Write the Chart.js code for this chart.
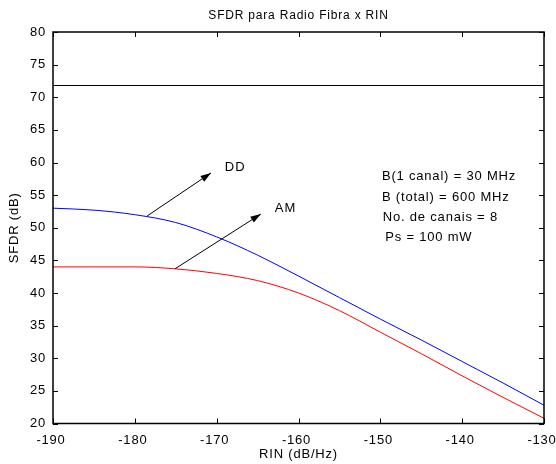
<!DOCTYPE html>
<html>
<head>
<meta charset="utf-8">
<script src="https://cdn.jsdelivr.net/npm/chart.js@4/dist/chart.umd.min.js"></script>
<style>
  html, body { margin: 0; padding: 0; background: #fff; }
  #wrap { width: 556px; height: 464px; }
</style>
</head>
<body>
<div id="wrap"><canvas id="c" width="556" height="464"></canvas></div>
<script>
// ── Data ──────────────────────────────────────────────────────────────────────
const rin    = [-190, -185, -180, -175, -170, -165, -160, -155, -150, -145, -140, -135, -130];
const sfdrDD = [53.0, 52.7, 52.0, 50.8, 48.6, 45.8, 42.6, 39.3, 36.0, 32.8, 29.5, 26.2, 22.8];
const sfdrAM = [44.0, 44.0, 44.0, 43.7, 43.0, 41.9, 40.0, 37.3, 34.0, 30.7, 27.3, 24.0, 20.8];
const limitLevel = 71.8;
const xTicks = [-190, -180, -170, -160, -150, -140, -130];
const yTicks = [20, 25, 30, 35, 40, 45, 50, 55, 60, 65, 70, 75, 80];
const notes  = ['B(1 canal) = 30 MHz', 'B (total) = 600 MHz', 'No. de canais = 8', 'Ps = 100 mW'];

const FONT = "'Liberation Sans', Arial, sans-serif";

// ── Plugin: box, inward ticks, arrows, labels ────────────────────────────────
const decor = {
  id: 'decor',
  beforeUpdate(chart) { chart.ctx.letterSpacing = '0.8px'; },
  beforeDraw(chart) { chart.ctx.letterSpacing = '0.8px'; },
  afterDatasetsDraw(chart) {
    const { ctx, chartArea: a, scales: { x, y } } = chart;
    ctx.save();
    ctx.strokeStyle = '#000';
    ctx.lineWidth = 1.5;
    ctx.strokeRect(a.left, a.top, a.right - a.left, a.bottom - a.top);

    ctx.lineWidth = 1;
    ctx.beginPath();
    xTicks.forEach(v => {
      const px = Math.round(x.getPixelForValue(v)) + 0.5;
      ctx.moveTo(px, a.bottom); ctx.lineTo(px, a.bottom - 5);
      ctx.moveTo(px, a.top);    ctx.lineTo(px, a.top + 5);
    });
    yTicks.forEach(v => {
      const py = Math.round(y.getPixelForValue(v)) + 0.5;
      ctx.moveTo(a.left, py);  ctx.lineTo(a.left + 5, py);
      ctx.moveTo(a.right, py); ctx.lineTo(a.right - 5, py);
    });
    ctx.stroke();

    const arrow = (x0, y0, x1, y1) => {
      const p0 = [x.getPixelForValue(x0), y.getPixelForValue(y0)];
      const p1 = [x.getPixelForValue(x1), y.getPixelForValue(y1)];
      const ang = Math.atan2(p1[1] - p0[1], p1[0] - p0[0]);
      ctx.beginPath();
      ctx.moveTo(p0[0], p0[1]); ctx.lineTo(p1[0], p1[1]);
      ctx.stroke();
      ctx.beginPath();
      ctx.moveTo(p1[0], p1[1]);
      ctx.lineTo(p1[0] - 11 * Math.cos(ang - 0.32), p1[1] - 11 * Math.sin(ang - 0.32));
      ctx.lineTo(p1[0] - 11 * Math.cos(ang + 0.32), p1[1] - 11 * Math.sin(ang + 0.32));
      ctx.closePath();
      ctx.fillStyle = '#000';
      ctx.fill();
    };
    arrow(-178.5, 51.8, -170.7, 58.4);
    arrow(-175.1, 43.7, -164.6, 52.1);

    ctx.fillStyle = '#000';
    ctx.font = '13px ' + FONT;
    ctx.letterSpacing = '1px';
    ctx.textBaseline = 'middle';
    ctx.textAlign = 'left';
    ctx.fillText('DD', x.getPixelForValue(-169.0), y.getPixelForValue(59.3));
    ctx.fillText('AM', x.getPixelForValue(-162.9), y.getPixelForValue(53.0));

    ctx.letterSpacing = '0.8px';
    const noteY = [57.8, 54.65, 51.6, 48.55];
    const noteX = [-149.8, -149.8, -149.7, -149.4];
    notes.forEach((t, i) => {
      ctx.fillText(t, x.getPixelForValue(noteX[i]), y.getPixelForValue(noteY[i]));
    });
    ctx.restore();
  }
};

// ── Chart ─────────────────────────────────────────────────────────────────────
new Chart(document.getElementById('c'), {
  type: 'line',
  data: {
    datasets: [
      {
        label: 'DD',
        data: rin.map((v, i) => ({ x: v, y: sfdrDD[i] })),
        borderColor: '#0000ff',
        borderWidth: 1,
        pointRadius: 0,
        cubicInterpolationMode: 'monotone',
      },
      {
        label: 'AM',
        data: rin.map((v, i) => ({ x: v, y: sfdrAM[i] })),
        borderColor: '#ff0000',
        borderWidth: 1,
        pointRadius: 0,
        cubicInterpolationMode: 'monotone',
      },
      {
        label: 'limit',
        data: [{ x: rin[0], y: limitLevel }, { x: rin[rin.length - 1], y: limitLevel }],
        borderColor: '#000',
        borderWidth: 1,
        pointRadius: 0,
      }
    ]
  },
  options: {
    responsive: false,
    animation: false,
    events: [],
    layout: { padding: { left: 0, right: 12, top: 0, bottom: 0 } },
    plugins: {
      legend: { display: false },
      tooltip: { enabled: false },
      title: {
        display: true,
        fullSize: false,
        text: 'SFDR para Radio Fibra x RIN',
        color: '#000',
        font: { family: FONT, size: 12, weight: 'normal' },
        padding: { top: 8, bottom: 9.6 },
      }
    },
    scales: {
      x: {
        type: 'linear',
        min: -190, max: -130,
        afterBuildTicks: s => { s.ticks = xTicks.map(v => ({ value: v })); },
        afterFit: s => { s.height = 40.5; s.paddingLeft = 0; s.paddingRight = 0; },
        grid: { display: false, drawTicks: false },
        border: { display: false },
        ticks: { color: '#000', padding: 9.5, labelOffset: -2, maxRotation: 0, font: { family: FONT, size: 13 } },
        title: {
          display: true, text: 'RIN (dB/Hz)', color: '#000',
          font: { family: FONT, size: 13 }, padding: { top: 0, bottom: 1.8 }
        }
      },
      y: {
        type: 'linear',
        min: 20, max: 80,
        afterBuildTicks: s => { s.ticks = yTicks.map(v => ({ value: v })); },
        afterFit: s => { s.width = 53; s.paddingTop = 0; s.paddingBottom = 0; },
        grid: { display: false, drawTicks: false },
        border: { display: false },
        ticks: { color: '#000', padding: 7, font: { family: FONT, size: 13 } },
        title: {
          display: true, text: 'SFDR (dB)', color: '#000',
          font: { family: FONT, size: 13 }, padding: { top: 7, bottom: 0 }
        }
      }
    }
  },
  plugins: [decor]
});
</script>
</body>
</html>
